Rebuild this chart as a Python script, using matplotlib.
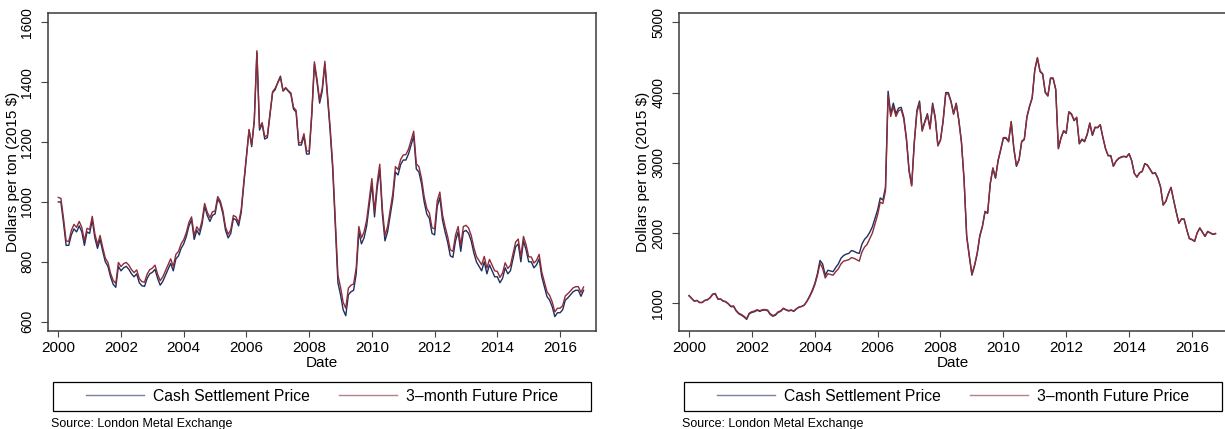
import numpy as np
import pandas as pd
import matplotlib
matplotlib.use('Agg')
import matplotlib.pyplot as plt
from matplotlib.lines import Line2D
from matplotlib.patches import Rectangle

plt.rcParams['font.family'] = ['Liberation Sans', 'DejaVu Sans']

# monthly prices, Jan 2000 - Oct 2016 (2015 $ per ton)
al_cash = [
    1000, 1000, 930, 855, 855, 890, 910, 900, 920, 900, 855, 900,
    895, 940, 880, 845, 875, 835, 800, 785, 750, 725, 715, 785,
    770, 780, 785, 775, 760, 750, 760, 730, 720, 718, 745, 760,
    765, 775, 745, 722, 735, 755, 775, 795, 770, 810, 820, 845,
    860, 885, 920, 940, 875, 905, 890, 925, 985, 955, 935, 955,
    960, 1010, 995, 960, 905, 880, 895, 945, 940, 920, 965, 1060,
    1150, 1240, 1185, 1270, 1500, 1240, 1260, 1210, 1215, 1290, 1365, 1375,
    1400, 1420, 1370, 1380, 1370, 1360, 1310, 1300, 1190, 1190, 1220, 1160,
    1160, 1290, 1460, 1400, 1330, 1370, 1460, 1350, 1240, 1110, 920, 730,
    690, 640, 620, 690, 700, 705, 760, 900, 860, 880, 920, 990,
    1060, 950, 1045, 1110, 960, 870, 900, 955, 1010, 1100, 1090, 1125,
    1140, 1140, 1160, 1190, 1220, 1110, 1100, 1060, 1000, 960, 945, 895,
    890, 985, 1015, 940, 900, 865, 820, 815, 870, 900, 835, 900,
    905, 895, 870, 830, 800, 785, 770, 800, 760, 790, 770, 750,
    750, 730, 745, 780, 760, 770, 810, 850, 860, 800, 870, 840,
    800, 800, 780, 790, 810, 750, 717, 684, 672, 650, 617, 630,
    630, 640, 672, 680, 690, 700, 705, 705, 685, 705,
]
al_future = [
    1015, 1012, 945, 870, 868, 905, 925, 915, 935, 915, 870, 912,
    908, 952, 893, 858, 888, 848, 812, 798, 762, 738, 728, 798,
    784, 794, 798, 789, 774, 764, 773, 744, 734, 732, 759, 774,
    779, 789, 759, 737, 750, 770, 790, 810, 785, 825, 835, 860,
    874, 898, 932, 950, 888, 917, 903, 937, 995, 966, 948, 967,
    970, 1018, 1003, 970, 916, 892, 907, 955, 950, 930, 975, 1068,
    1155, 1242, 1190, 1275, 1505, 1248, 1265, 1218, 1222, 1295, 1368, 1380,
    1398, 1415, 1372, 1382, 1372, 1364, 1316, 1306, 1198, 1198, 1228, 1170,
    1170, 1298, 1468, 1410, 1340, 1380, 1470, 1362, 1252, 1125, 940, 755,
    715, 665, 645, 712, 722, 726, 780, 918, 880, 900, 940, 1008,
    1078, 968, 1062, 1126, 978, 888, 918, 972, 1028, 1118, 1108, 1142,
    1157, 1158, 1176, 1206, 1236, 1127, 1118, 1078, 1018, 978, 963, 914,
    910, 1004, 1033, 958, 918, 884, 840, 835, 889, 918, 855, 918,
    922, 913, 888, 848, 818, 804, 790, 818, 779, 808, 789, 770,
    768, 748, 763, 797, 778, 788, 827, 866, 876, 817, 885, 857,
    817, 816, 796, 805, 825, 766, 733, 700, 688, 666, 633, 645,
    645, 654, 686, 694, 703, 713, 717, 717, 698, 716,
]
cu_cash = [
    1110, 1070, 1030, 1040, 1010, 1010, 1040, 1050, 1080, 1130, 1140, 1060,
    1060, 1030, 1020, 990, 950, 955, 890, 850, 830, 805, 770, 850,
    870, 880, 900, 885, 900, 905, 895, 840, 815, 830, 870, 885,
    925, 905, 890, 900, 885, 920, 945, 955, 975, 1030, 1100, 1180,
    1280, 1420, 1610, 1560, 1400, 1470, 1460, 1450, 1510, 1560, 1640, 1680,
    1700, 1710, 1750, 1740, 1720, 1710, 1840, 1910, 1950, 2010, 2090, 2210,
    2330, 2500, 2470, 2650, 4020, 3700, 3850, 3700, 3780, 3790, 3650, 3350,
    2900, 2680, 3300, 3750, 3880, 3470, 3590, 3700, 3500, 3850, 3650, 3250,
    3330, 3600, 4000, 4000, 3880, 3700, 3850, 3610, 3300, 2760, 1950, 1665,
    1400, 1530, 1700, 1950, 2090, 2300, 2280, 2700, 2920, 2780, 3030, 3185,
    3350, 3350, 3300, 3580, 3200, 2950, 3040, 3300, 3330, 3650, 3800, 3920,
    4320, 4490, 4300, 4260, 4000, 3950, 4200, 4200, 4040, 3200, 3350, 3450,
    3420, 3720, 3690, 3600, 3640, 3270, 3330, 3300, 3400, 3560, 3390, 3500,
    3500, 3540, 3360, 3200, 3100, 3100, 2950, 3020, 3060, 3080, 3090, 3080,
    3130, 3030, 2850, 2800, 2860, 2880, 2990, 2970, 2910, 2850, 2860, 2780,
    2660, 2400, 2450, 2560, 2650, 2470, 2300, 2140, 2200, 2200, 2050, 1920,
    1905, 1880, 2000, 2070, 2010, 1950, 2020, 2000, 1980, 1990,
]
cu_future = [
    1105, 1068, 1032, 1040, 1012, 1012, 1040, 1048, 1076, 1122, 1135, 1062,
    1062, 1035, 1025, 995, 958, 962, 898, 858, 840, 815, 782, 860,
    880, 890, 908, 894, 908, 912, 903, 850, 826, 840, 878, 892,
    930, 910, 896, 905, 890, 922, 945, 955, 972, 1025, 1090, 1165,
    1260, 1390, 1570, 1500, 1360, 1420, 1410, 1400, 1450, 1490, 1560, 1600,
    1610, 1620, 1650, 1640, 1620, 1600, 1730, 1800, 1840, 1920, 2000, 2130,
    2260, 2440, 2420, 2600, 3960, 3660, 3800, 3660, 3740, 3760, 3620, 3330,
    2880, 2670, 3280, 3720, 3850, 3450, 3570, 3680, 3480, 3820, 3630, 3240,
    3320, 3590, 3980, 3980, 3870, 3690, 3840, 3600, 3290, 2760, 1960, 1680,
    1420, 1545, 1715, 1965, 2100, 2310, 2290, 2710, 2930, 2790, 3040, 3195,
    3360, 3360, 3310, 3590, 3210, 2960, 3050, 3310, 3340, 3660, 3810, 3930,
    4330, 4500, 4310, 4270, 4010, 3960, 4210, 4210, 4050, 3210, 3360, 3460,
    3430, 3730, 3700, 3610, 3650, 3280, 3340, 3310, 3410, 3570, 3400, 3510,
    3505, 3545, 3365, 3205, 3105, 3105, 2955, 3025, 3065, 3085, 3095, 3085,
    3130, 3030, 2850, 2795, 2855, 2875, 2985, 2965, 2905, 2845, 2855, 2775,
    2655, 2400, 2450, 2560, 2650, 2470, 2300, 2140, 2200, 2200, 2050, 1925,
    1910, 1885, 2005, 2075, 2015, 1955, 2025, 2005, 1985, 1995,
]

dates = pd.date_range('2000-01-01', periods=len(al_cash), freq='MS')
years = dates.year + (dates.month - 1) / 12

xticks = [2000, 2002, 2004, 2006, 2008, 2010, 2012, 2014, 2016]
al_yticks = [600, 800, 1000, 1200, 1400, 1600]
cu_yticks = [1000, 2000, 3000, 4000, 5000]

navy = '#1f2f5e'
maroon = '#8e2c38'
W, H = 1225, 429

fig = plt.figure(figsize=(W / 100, H / 100), dpi=100)

panels = [
    # left px, xlim, ylim, yticks, cash, future, ylabel x px, legend box px
    (48, (1999.672, 2017.146), (569, 1631), al_yticks, al_cash, al_future, 13, (53, 591)),
    (679, (1999.681, 2017.115), (605, 5134), cu_yticks, cu_cash, cu_future, 643, (684, 1222)),
]

for left, xl, yl, yt, cash, fut, ylab_x, (lx0, lx1) in panels:
    ax = fig.add_axes([left / W, (H - 331) / H, 548 / W, 318 / H])
    ax.plot(years, cash, color=navy, lw=1.0)
    ax.plot(years, fut, color=maroon, lw=1.0)
    ax.set_xlim(*xl)
    ax.set_ylim(*yl)
    ax.set_xticks(xticks)
    ax.set_yticks(yt)
    ax.tick_params(axis='x', direction='out', length=4, width=0.8, pad=3.5,
                   labelsize=11, color='#444444')
    ax.tick_params(axis='y', direction='out', length=4.8, width=0.8, pad=5,
                   labelsize=10, color='#444444', labelrotation=90)
    for lab in ax.get_yticklabels():
        lab.set_va('center')
    for sp in ax.spines.values():
        sp.set_color('#3a3a3a')
        sp.set_linewidth(1.1)
    ax.set_xlabel('Date', fontsize=11)
    ax.xaxis.set_label_coords(0.5, (331 - 363.3) / 318)
    ax.xaxis.label.set_va('center')
    ax.set_ylabel('Dollars per ton (2015 $)', fontsize=11)
    ax.yaxis.set_label_coords((ylab_x - left) / 548, 0.5)
    ax.yaxis.label.set_va('center')

    # legend frame and entries
    fig.patches.append(Rectangle((lx0 / W, (H - 411) / H), (lx1 - lx0) / W, 29.3 / H,
                                 transform=fig.transFigure, fill=False,
                                 edgecolor='black', lw=0.9))
    handles = [Line2D([], [], color=navy, lw=1.0, alpha=0.6),
               Line2D([], [], color=maroon, lw=1.0, alpha=0.6)]
    fig.legend(handles, ['Cash Settlement Price', '3\u2013month Future Price'],
               loc='center', bbox_to_anchor=((lx0 + lx1) / 2 / W, 1 - 396.3 / H),
               ncol=2, frameon=False, fontsize=11.3, handlelength=3.7,
               handletextpad=0.6, columnspacing=1.8, borderpad=0)
    fig.text((left + 3) / W, 1 - 424 / H, 'Source: London Metal Exchange',
             fontsize=9, va='center', ha='left')

fig.savefig('out.png', dpi=100, facecolor='white')
